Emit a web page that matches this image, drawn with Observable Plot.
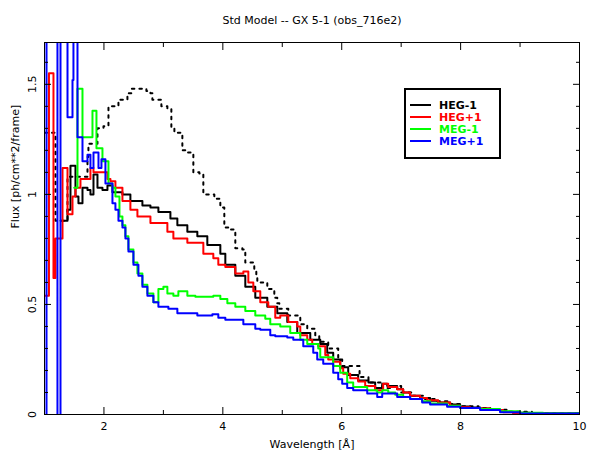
<!DOCTYPE html>
<html><head><meta charset="utf-8">
<script src="https://cdn.jsdelivr.net/npm/d3@7"></script>
<script src="https://cdn.jsdelivr.net/npm/@observablehq/plot@0.6"></script>
<style>body{margin:0;background:#fff}</style>
</head><body><div id="chart"></div>
<script>
const titleText = "Std Model -- GX 5-1 (obs_716e2)";
const xLabelText = "Wavelength [Å]";
const yLabelText = "Flux [ph/cm**2/frame]";
const seriesNames = ["HEG-1", "HEG+1", "MEG-1", "MEG+1"];
const seriesColors = ["#000000", "#ff0000", "#00ff00", "#0000ff"];
const xMajorTicks = [2, 4, 6, 8, 10];
const xMinorTicks = [1, 3, 5, 7, 9];
const yMajorTicks = [0, 0.5, 1, 1.5];
const yMinorTicks = [0.1,0.2,0.3,0.4,0.6,0.7,0.8,0.9,1.1,1.2,1.3,1.4,1.6];

// [wavelength (bin start), flux]
const hegM1 = [[1.27,0.88],[1.387,0.93],[1.437,1.13],[1.521,0.99],[1.571,0.96],[1.639,1.03],[1.723,1.02],[1.773,1.00],[1.824,1.09],[1.891,1.03],[1.975,1.02],[2.059,1.04],[2.143,1.01],[2.311,1.00],[2.445,0.97],[2.647,0.95],[2.782,0.94],[2.916,0.92],[3.118,0.89],[3.235,0.86],[3.403,0.83],[3.571,0.81],[3.739,0.77],[3.958,0.73],[4.042,0.68],[4.21,0.63],[4.378,0.58],[4.546,0.53],[4.748,0.49],[4.916,0.46],[5.084,0.42],[5.252,0.37],[5.471,0.34],[5.639,0.32],[5.756,0.28],[5.857,0.25],[5.975,0.215],[6.109,0.18],[6.277,0.155],[6.45,0.145],[6.563,0.12],[6.681,0.14],[6.765,0.13],[6.933,0.115],[7.034,0.1],[7.151,0.085],[7.319,0.075],[7.487,0.062],[7.622,0.055],[7.824,0.045],[7.992,0.036],[8.16,0.032],[8.328,0.027],[8.496,0.021],[8.714,0.012],[8.882,0.008],[9.168,0.005],[9.5,0.004],[10,0.003]];
const hegP1 = [[1.0,0.54],[1.075,1.55],[1.151,0.62],[1.185,0.8],[1.303,1.12],[1.387,0.91],[1.471,0.99],[1.521,1.03],[1.605,1.07],[1.773,1.12],[1.824,1.1],[2.059,1.07],[2.109,1.06],[2.193,1.03],[2.311,0.97],[2.445,0.93],[2.563,0.9],[2.782,0.87],[3.067,0.83],[3.168,0.8],[3.403,0.78],[3.672,0.73],[3.84,0.71],[3.924,0.68],[4.042,0.67],[4.21,0.64],[4.345,0.65],[4.429,0.6],[4.513,0.56],[4.63,0.51],[4.765,0.49],[4.882,0.44],[4.966,0.45],[5.101,0.42],[5.252,0.4],[5.303,0.36],[5.42,0.34],[5.504,0.32],[5.605,0.31],[5.723,0.27],[5.773,0.25],[5.857,0.24],[5.975,0.21],[6.025,0.185],[6.143,0.165],[6.277,0.15],[6.395,0.13],[6.563,0.11],[6.697,0.14],[6.782,0.125],[6.933,0.115],[7.034,0.1],[7.151,0.085],[7.319,0.075],[7.437,0.065],[7.622,0.055],[7.824,0.04],[7.992,0.033],[8.16,0.03],[8.328,0.027],[8.496,0.02],[8.714,0.01],[8.882,0.007],[9.168,0.004],[9.387,0.003],[10,0.003]];
const megM1 = [[1.5,1.03],[1.555,1.48],[1.639,1.26],[1.807,1.38],[1.874,1.21],[1.975,1.15],[2.076,1.05],[2.143,1.03],[2.193,0.99],[2.261,0.9],[2.311,0.86],[2.361,0.81],[2.412,0.75],[2.496,0.69],[2.563,0.64],[2.647,0.59],[2.731,0.55],[2.832,0.51],[2.916,0.57],[3.0,0.58],[3.067,0.55],[3.168,0.54],[3.252,0.56],[3.403,0.54],[3.538,0.535],[3.84,0.54],[3.958,0.525],[4.076,0.505],[4.21,0.49],[4.378,0.47],[4.546,0.45],[4.714,0.435],[4.798,0.41],[4.966,0.4],[5.134,0.37],[5.303,0.34],[5.42,0.32],[5.605,0.3],[5.639,0.26],[5.857,0.22],[5.975,0.19],[6.092,0.145],[6.193,0.125],[6.429,0.11],[6.597,0.1],[6.681,0.11],[6.782,0.1],[6.9,0.09],[7.034,0.08],[7.151,0.07],[7.353,0.06],[7.487,0.05],[7.773,0.04],[7.992,0.03],[8.328,0.025],[8.664,0.015],[9.0,0.008],[9.387,0.006],[10,0.005]];
const megP1 = [[1.0,-0.3],[1.034,2.5],[1.218,-0.3],[1.269,2.5],[1.387,1.35],[1.471,1.52],[1.487,2.5],[1.555,1.26],[1.639,1.15],[1.723,1.18],[1.773,1.12],[1.824,1.19],[1.908,1.12],[1.958,1.16],[2.025,1.05],[2.143,0.96],[2.193,0.93],[2.244,0.88],[2.311,0.85],[2.361,0.8],[2.412,0.74],[2.496,0.68],[2.58,0.63],[2.647,0.58],[2.731,0.54],[2.832,0.51],[2.916,0.49],[3.084,0.48],[3.235,0.46],[3.571,0.45],[3.824,0.455],[3.924,0.44],[4.042,0.43],[4.345,0.41],[4.546,0.39],[4.63,0.385],[4.798,0.36],[4.882,0.355],[5.084,0.35],[5.185,0.34],[5.353,0.31],[5.521,0.28],[5.588,0.25],[5.689,0.23],[5.857,0.19],[5.941,0.16],[6.008,0.14],[6.092,0.12],[6.193,0.11],[6.429,0.095],[6.597,0.08],[6.681,0.095],[6.933,0.08],[7.151,0.07],[7.353,0.055],[7.487,0.045],[7.773,0.035],[7.992,0.03],[8.328,0.02],[8.664,0.01],[9.0,0.005],[10,0.005]];
const stdModel = [[1.0,1.28],[1.185,0.88],[1.387,1.08],[1.723,1.17],[1.739,1.23],[1.891,1.3],[1.992,1.31],[2.076,1.4],[2.244,1.43],[2.395,1.46],[2.462,1.48],[2.714,1.47],[2.782,1.46],[2.815,1.43],[2.966,1.4],[3.067,1.39],[3.134,1.3],[3.185,1.28],[3.319,1.2],[3.403,1.19],[3.504,1.1],[3.605,1.095],[3.672,1.0],[3.857,0.98],[3.958,0.94],[4.025,0.85],[4.126,0.84],[4.21,0.755],[4.328,0.75],[4.378,0.69],[4.529,0.66],[4.563,0.63],[4.58,0.6],[4.748,0.57],[4.866,0.53],[4.916,0.505],[4.95,0.48],[5.101,0.45],[5.303,0.41],[5.42,0.39],[5.555,0.36],[5.622,0.33],[5.773,0.3],[5.941,0.25],[6.008,0.22],[6.3,0.17],[6.45,0.145],[6.681,0.12],[6.85,0.13],[7.0,0.1],[7.2,0.085],[7.4,0.07],[7.6,0.06],[7.8,0.048],[8.0,0.038],[8.3,0.03],[8.5,0.022],[8.8,0.012],[9.2,0.006],[10,0.004]];

const seriesData = [hegM1, hegP1, megM1, megP1];
const rows = seriesData.flatMap((arr, i) => arr.map(([wl, flux]) => ({series: seriesNames[i], wl, flux})));
const modelRows = stdModel.map(([wl, flux]) => ({wl, flux}));

const font = "DejaVu Sans, sans-serif";
const chart = Plot.plot({
  width: 596, height: 466,
  marginLeft: 44, marginRight: 17, marginTop: 42, marginBottom: 52,
  style: {fontFamily: font, fontSize: "11px", background: "white", overflow: "visible"},
  x: {domain: [1, 10], label: null},
  y: {domain: [0, 1.69], label: null},
  color: {domain: seriesNames, range: seriesColors},
  marks: [
    Plot.line(modelRows, {x: "wl", y: "flux", curve: "step-after", stroke: "black", strokeWidth: 2, strokeDasharray: "2.5,5", clip: true}),
    Plot.line(rows, {x: "wl", y: "flux", z: "series", stroke: "series", curve: "step-after", strokeWidth: 2, clip: true}),
    Plot.frame({stroke: "black"}),
    Plot.axisX({ticks: xMajorTicks, anchor: "bottom", tickSize: -7, tickFormat: () => "", label: null}),
    Plot.axisX({ticks: xMinorTicks, anchor: "bottom", tickSize: -4, tickFormat: () => "", label: null}),
    Plot.axisX({ticks: xMajorTicks, anchor: "top", tickSize: -7, tickFormat: () => "", label: null}),
    Plot.axisX({ticks: xMinorTicks, anchor: "top", tickSize: -4, tickFormat: () => "", label: null}),
    Plot.axisY({ticks: yMajorTicks, anchor: "left", tickSize: -7, tickFormat: () => "", label: null}),
    Plot.axisY({ticks: yMinorTicks, anchor: "left", tickSize: -4, tickFormat: () => "", label: null}),
    Plot.axisY({ticks: yMajorTicks, anchor: "right", tickSize: -7, tickFormat: () => "", label: null}),
    Plot.axisY({ticks: yMinorTicks, anchor: "right", tickSize: -4, tickFormat: () => "", label: null}),
    Plot.axisX({ticks: xMajorTicks, anchor: "bottom", tickSize: 0, tickPadding: 8, tickFormat: d => String(d), label: null}),
    Plot.axisY({ticks: yMajorTicks, anchor: "left", tickSize: 0, tickPadding: 9, tickRotate: -90, tickFormat: d => String(d), label: null}),
    Plot.text([titleText], {frameAnchor: "top", dy: -26, text: d => d, fontSize: 11}),
    Plot.text([xLabelText], {frameAnchor: "bottom", dy: 33, text: d => d, fontSize: 11}),
    Plot.text([yLabelText], {frameAnchor: "left", dx: -29, rotate: -90, text: d => d, fontSize: 11})
  ]
});
document.getElementById("chart").appendChild(chart);

// Legend box (inside the plot area, top right)
const svg = d3.select(chart);
const lg = svg.append("g").attr("font-family", font).attr("font-size", 11).attr("font-weight", "bold").attr("text-anchor", "start");
lg.append("rect").attr("x", 405).attr("y", 89).attr("width", 95).attr("height", 69)
  .attr("fill", "white").attr("stroke", "black").attr("stroke-width", 2);
seriesNames.forEach((name, i) => {
  const y = 105 + i * 12;
  lg.append("line").attr("x1", 410).attr("x2", 431).attr("y1", y).attr("y2", y)
    .attr("stroke", seriesColors[i]).attr("stroke-width", 2);
  lg.append("text").attr("x", 439).attr("y", y).attr("dy", "0.38em").attr("text-anchor", "start")
    .attr("fill", seriesColors[i]).text(name);
});
</script>
</body></html>
